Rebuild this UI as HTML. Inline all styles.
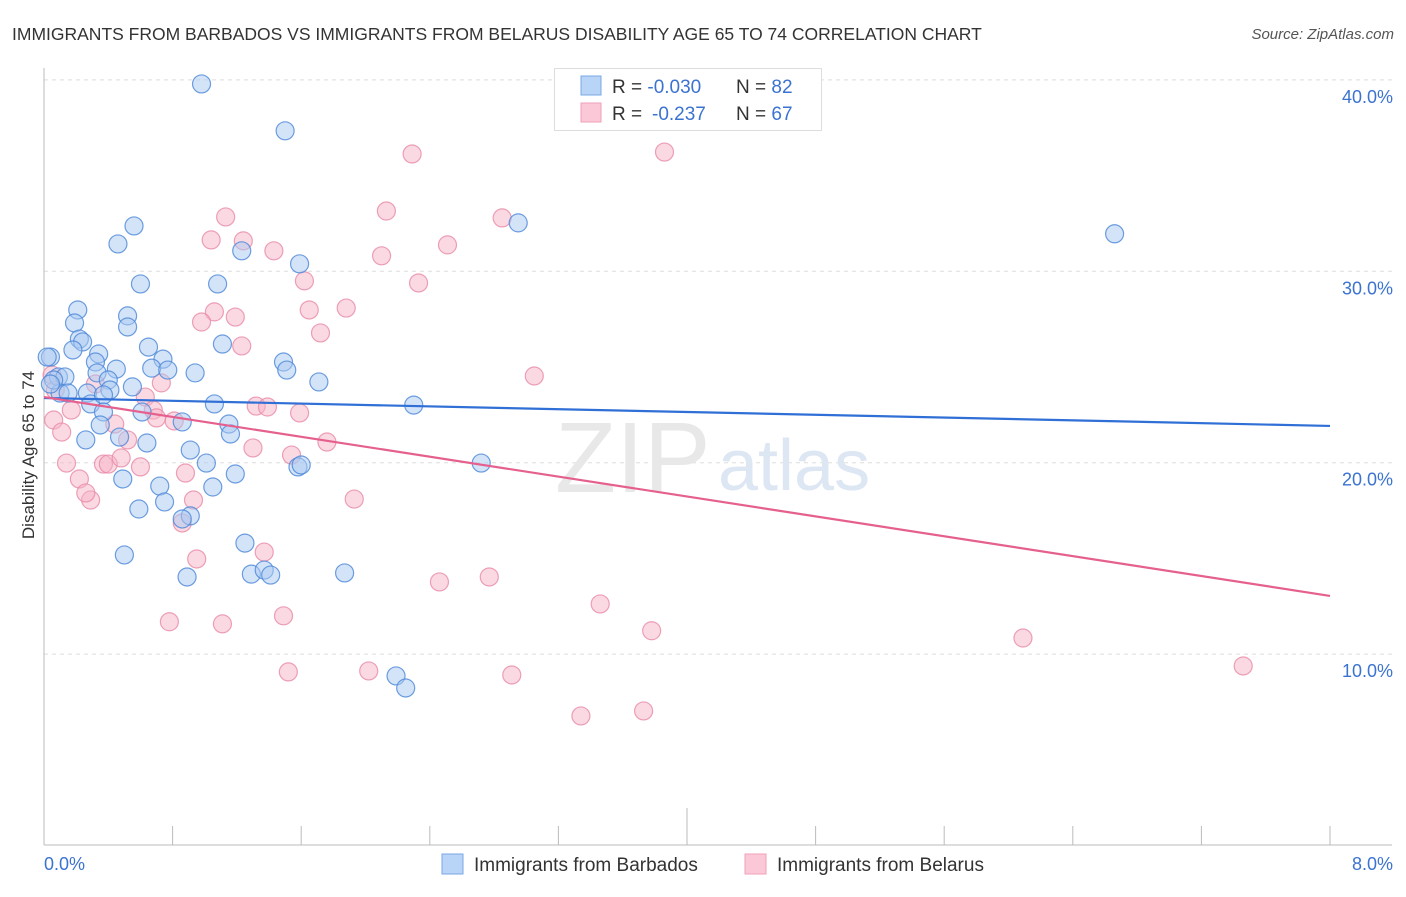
<!DOCTYPE html>
<html><head><meta charset="utf-8"><style>
body{margin:0;background:#fff;font-family:"Liberation Sans",sans-serif}
svg text{font-family:"Liberation Sans",sans-serif}
</style></head><body>
<svg width="1406" height="892" viewBox="0 0 1406 892" xmlns="http://www.w3.org/2000/svg">
<text x="12" y="40" font-size="17.5" fill="#333">IMMIGRANTS FROM BARBADOS VS IMMIGRANTS FROM BELARUS DISABILITY AGE 65 TO 74 CORRELATION CHART</text>
<text x="1394" y="39" font-size="15" fill="#555" text-anchor="end" font-style="italic">Source: ZipAtlas.com</text>
<g id="grid"></g>
<g id="axes"></g>
<text x="555" y="492" font-size="100" fill="#e8e8e8" font-family="Liberation Serif">ZIP</text>
<text x="718" y="490" font-size="72" fill="#dde6f3">atlas</text>
<g id="pts"></g>
<g id="lines"></g>
<text transform="translate(34,455) rotate(-90)" font-size="17" fill="#333" text-anchor="middle">Disability Age 65 to 74</text>
<g>
<rect x="554.5" y="68.5" width="267" height="62" fill="#fff" stroke="#ddd"/>
<rect x="581" y="76" width="20" height="19" fill="#b8d4f6" stroke="#7aa8e6"/>
<rect x="581" y="103" width="20" height="19" fill="#fbc8d8" stroke="#f0a0b8"/>
<text x="612" y="93" font-size="19" fill="#333">R = <tspan fill="#3b73d0">-0.030</tspan><tspan x="736">N = </tspan><tspan fill="#3b73d0">82</tspan></text>
<text x="612" y="120" font-size="19" fill="#333">R = <tspan fill="#3b73d0" x="652">-0.237</tspan><tspan x="736">N = </tspan><tspan fill="#3b73d0">67</tspan></text>
</g>
<text x="44" y="870" font-size="18" fill="#3b73d0">0.0%</text>
<text x="1393" y="870" font-size="18" fill="#3b73d0" text-anchor="end">8.0%</text>
<g>
<rect x="442" y="854" width="21" height="20" fill="#b8d4f6" stroke="#7aa8e6"/>
<text x="474" y="871" font-size="19" fill="#333">Immigrants from Barbados</text>
</g>
<g>
<rect x="745" y="854" width="21" height="20" fill="#fbc8d8" stroke="#f0a0b8"/>
<text x="777" y="871" font-size="19" fill="#333">Immigrants from Belarus</text>
</g>
</svg>
<script>
const yTicks=[10,20,30,40];
const yTickLabels=["10.0%","20.0%","30.0%","40.0%"];
const blueX=[0.98,1.50,0.56,0.46,1.23,2.95,6.66,1.59,0.60,1.08,0.21,0.52,0.19,0.52,0.22,0.24,0.18,0.34,0.65,1.11,0.74,0.32,0.45,0.67,0.94,0.77,1.49,1.51,1.71,0.04,0.02,0.09,0.13,0.33,0.40,0.41,0.55,0.10,0.15,0.27,0.06,0.29,0.37,0.37,0.61,0.86,1.06,1.15,1.16,0.35,0.26,0.47,0.64,0.91,1.01,1.58,1.60,1.19,0.49,0.72,1.05,0.75,0.59,0.91,0.86,1.25,0.50,1.29,1.37,1.41,0.89,1.87,2.30,2.72,2.19,2.25,0.04];
const blueY=[39.79,37.34,32.37,31.43,31.07,32.53,31.96,30.39,29.34,29.34,27.98,27.67,27.30,27.09,26.46,26.31,25.89,25.68,26.04,26.20,25.41,25.26,24.89,24.94,24.69,24.84,25.26,24.84,24.22,25.52,25.52,24.48,24.48,24.69,24.32,23.80,23.96,23.64,23.64,23.64,24.32,23.07,23.54,22.65,22.65,22.13,23.07,22.02,21.50,21.97,21.19,21.34,21.03,20.66,19.98,19.78,19.88,19.41,19.15,18.78,18.73,17.95,17.58,17.22,17.06,15.80,15.18,14.18,14.39,14.13,14.03,14.24,23.01,19.98,8.86,8.23,24.11];
const pinkX=[2.29,3.86,1.13,2.85,1.04,1.24,1.43,2.10,2.51,2.13,1.62,2.33,1.65,1.88,1.06,0.98,1.19,1.72,1.23,3.05,0.73,0.32,0.05,0.07,0.63,0.68,0.70,1.32,1.39,1.59,0.81,0.44,0.52,0.06,0.11,0.17,0.14,1.76,1.30,1.54,0.37,0.40,0.48,0.60,0.88,0.22,0.29,0.26,0.93,1.93,0.86,1.37,0.95,2.46,2.77,3.46,1.49,0.78,1.11,3.78,6.09,1.52,2.02,2.91,7.46,3.34,3.73];
const pinkY=[36.13,36.23,32.84,32.79,31.64,31.59,31.07,30.81,31.38,33.15,29.50,29.39,27.98,28.08,27.88,27.35,27.61,26.78,26.10,24.53,24.17,24.11,24.58,23.80,23.43,22.75,22.34,22.96,22.91,22.60,22.18,22.02,21.19,22.23,21.60,22.75,19.98,21.08,20.77,20.40,19.93,19.93,20.25,19.78,19.46,19.15,18.05,18.42,18.05,18.10,16.85,15.33,14.97,13.77,14.03,12.62,12.00,11.69,11.58,11.22,10.84,9.07,9.12,8.91,9.38,6.77,7.03];
const blueTrend=[23.38,21.92];
const pinkTrend=[23.43,13.04];
const X0=44,X1=1330,Y0=845.5,PPU=19.14;
const sx=v=>X0+(v/8)*(X1-X0);
const sy=v=>Y0-v*PPU;
const NS="http://www.w3.org/2000/svg";
function mk(tag,attrs,parent){const e=document.createElementNS(NS,tag);for(const k in attrs)e.setAttribute(k,attrs[k]);parent.appendChild(e);return e;}
const grid=document.getElementById('grid');
yTicks.forEach((t,i)=>{
  const l=mk('line',{x1:44,x2:1392,y1:sy(t),y2:sy(t),stroke:'#ddd','stroke-dasharray':'4,4'},grid);
  
  
  const tx=mk('text',{x:1393,y:sy(t)+23,'font-size':18,fill:'#3b73d0','text-anchor':'end'},grid);
  tx.textContent=yTickLabels[i];
  
  
});
const axes=document.getElementById('axes');
const ya=mk('line',{x1:44,x2:44,y1:68,y2:845,stroke:'#bbb'},axes);


const xa=mk('line',{x1:44,x2:1392,y1:845,y2:845,stroke:'#bbb'},axes);


for(let k=0;k<=10;k++){
  const x=sx(k*0.8);
  const t=mk('line',{x1:x,x2:x,y1:(k==5?808:826),y2:845,stroke:'#bbb'},axes);
  
  
}
const pts=document.getElementById('pts');
function draw(xs,ys,fill,stroke,name){
  xs.forEach((v,i)=>{
    const c=mk('circle',{cx:sx(v),cy:sy(ys[i]),r:9,fill:fill,'fill-opacity':0.5,stroke:stroke,'stroke-opacity':0.8,'stroke-width':1.2},pts);
    
    
  });
}
draw(pinkX,pinkY,'#f5b3c6','#e88aa8','belarus-point');
draw(blueX,blueY,'#a9c9f1','#4a86d8','barbados-point');
const lines=document.getElementById('lines');
const bl=mk('line',{x1:sx(0),x2:sx(8),y1:sy(blueTrend[0]),y2:sy(blueTrend[1]),stroke:'#2f6fd6','stroke-width':2.2},lines);


const pl=mk('line',{x1:sx(0),x2:sx(8),y1:sy(pinkTrend[0]),y2:sy(pinkTrend[1]),stroke:'#e5608e','stroke-width':2.2},lines);


</script>
</body></html>
